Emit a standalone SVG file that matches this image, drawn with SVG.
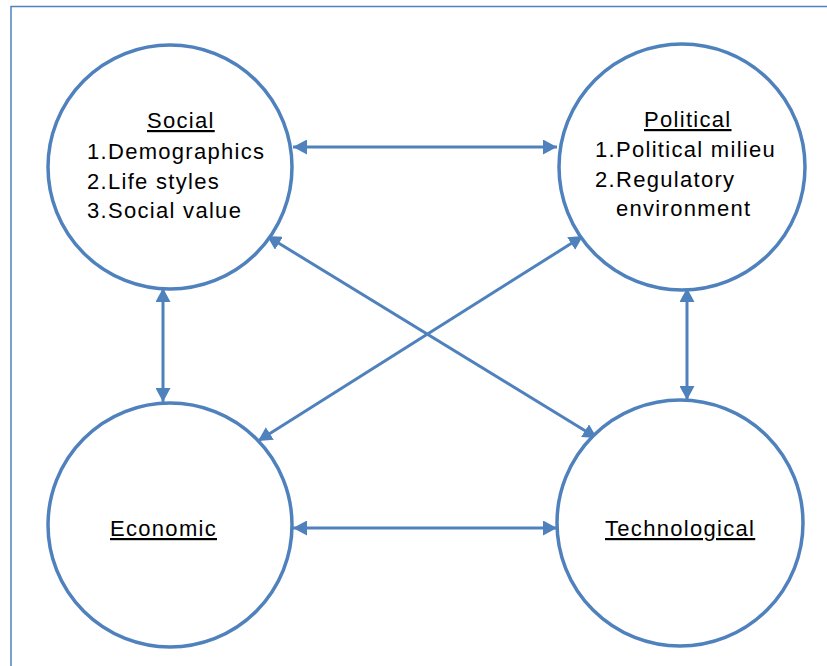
<svg xmlns="http://www.w3.org/2000/svg" width="827" height="666" viewBox="0 0 827 666">
<style>
.frame{fill:none;stroke:#4f81bd;stroke-width:1.5}
.node{fill:#fff;stroke:#4f81bd;stroke-width:3.5}
.conn{stroke:#4f81bd;stroke-width:3;fill:none;marker-start:url(#ah);marker-end:url(#ah)}
text{font-family:"Liberation Sans",Arial,sans-serif;font-size:22px;letter-spacing:1.3px;fill:#000}
.title{text-decoration:underline}
</style>
<defs>
<marker id="ah" markerUnits="userSpaceOnUse" markerWidth="15" markerHeight="15" refX="14" refY="7.5" orient="auto-start-reverse" viewBox="0 0 15 15">
<path d="M0,0 L14,7.5 L0,15 z" fill="#4f81bd"/>
</marker>
</defs>
<rect width="827" height="666" fill="#fff"/>
<path class="frame" d="M11,670 L11,6.5 L830,6.5"/>
<g id="connectors">
<line class="conn" x1="293" y1="147" x2="557" y2="147"/>
<line class="conn" x1="293" y1="528" x2="557" y2="528"/>
<line class="conn" x1="163" y1="288" x2="163" y2="402"/>
<line class="conn" x1="687" y1="288" x2="687" y2="400"/>
<line class="conn" x1="267" y1="236" x2="597" y2="438"/>
<line class="conn" x1="583" y1="236" x2="258" y2="441"/>
</g>
<g id="social">
<circle class="node" cx="170" cy="167" r="122"/>
<text class="title" x="147" y="128">Social</text>
<text x="87" y="159">1.Demographics</text>
<text x="87" y="189">2.Life styles</text>
<text x="87" y="218">3.Social value</text>
</g>
<g id="political">
<circle class="node" cx="682" cy="167" r="123"/>
<text class="title" x="644" y="127">Political</text>
<text x="595" y="157">1.Political milieu</text>
<text x="595" y="187">2.Regulatory</text>
<text x="616" y="216">environment</text>
</g>
<g id="economic">
<circle class="node" cx="170" cy="525" r="122"/>
<text class="title" x="110" y="536">Economic</text>
</g>
<g id="technological">
<circle class="node" cx="680" cy="523" r="123"/>
<text class="title" x="605" y="536">Technological</text>
</g>
</svg>
